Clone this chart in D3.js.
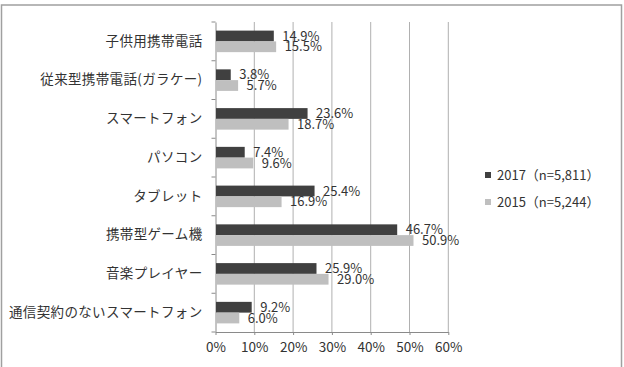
<!DOCTYPE html>
<html>
<head>
<meta charset="utf-8">
<script src="https://cdn.jsdelivr.net/npm/d3@7"></script>
<style>
  body { margin: 0; background: #fff; }
  text { font-family: "Noto Sans CJK JP", "Noto Sans", sans-serif; fill: #333; }
</style>
</head>
<body>
<div id="chart"></div>
<script>
// Data
const categories = [
  "子供用携帯電話",
  "従来型携帯電話(ガラケー)",
  "スマートフォン",
  "パソコン",
  "タブレット",
  "携帯型ゲーム機",
  "音楽プレイヤー",
  "通信契約のないスマートフォン"
];
const seriesNames = ["2017", "2015"];
const legendLabels = ["2017（n=5,811）", "2015（n=5,244）"];
const values2017 = [14.9, 3.8, 23.6, 7.4, 25.4, 46.7, 25.9, 9.2];
const values2015 = [15.5, 5.7, 18.7, 9.6, 16.9, 50.9, 29.0, 6.0];
const xTicks = [0, 10, 20, 30, 40, 50, 60];

const colors = { "2017": "#404040", "2015": "#bfbfbf" };

const W = 624, H = 367;
const margin = { top: 22, left: 215.5 };
const plotW = 232.8, plotH = 310;

const svg = d3.select("#chart").append("svg")
  .attr("width", W)
  .attr("height", H);

// outer frame
svg.append("rect")
  .attr("x", 1.5).attr("y", 5)
  .attr("width", 620).attr("height", 400)
  .attr("fill", "none")
  .attr("stroke", "#a0a0a0")
  .attr("stroke-width", 1.5);

const g = svg.append("g")
  .attr("transform", `translate(${margin.left},${margin.top})`);

// Scales
const x = d3.scaleLinear().domain([0, 60]).range([0, plotW]);
const y = d3.scaleBand().domain(categories).range([0, plotH]).padding(0);
const ySub = d3.scaleBand().domain(seriesNames).range([0, y.bandwidth()])
  .paddingInner(0).paddingOuter(0.8);

// gridlines
g.selectAll(".grid")
  .data(xTicks.slice(1))
  .enter().append("line")
  .attr("x1", d => x(d)).attr("x2", d => x(d))
  .attr("y1", 0).attr("y2", plotH)
  .attr("stroke", "#b0b0b0")
  .attr("stroke-width", 1);

// x axis
const xAxis = g.append("g")
  .attr("transform", `translate(0,${plotH})`)
  .call(d3.axisBottom(x).tickValues(xTicks).tickFormat(d => d + "%")
    .tickSize(3).tickSizeOuter(0).tickPadding(7));
xAxis.select(".domain").attr("stroke", "#8a8a8a");
xAxis.selectAll(".tick line").attr("stroke", "#8a8a8a");
xAxis.selectAll("text").style("font-size", "13.5px").attr("fill", "#333");

// y axis
const yAxis = g.append("g")
  .call(d3.axisLeft(y).tickSize(0).tickPadding(13));
yAxis.select(".domain").attr("stroke", "#8a8a8a");
yAxis.selectAll("text")
  .style("font-size", "13.5px")
  .style("letter-spacing", "0.35px")
  .attr("fill", "#333");

// category boundary ticks
g.selectAll(".ytick")
  .data(d3.range(categories.length + 1))
  .enter().append("line")
  .attr("x1", -4).attr("x2", 0)
  .attr("y1", i => i * y.step()).attr("y2", i => i * y.step())
  .attr("stroke", "#8a8a8a");

// bars
const rows = categories.map((c, i) => ({
  cat: c,
  vals: [
    { s: "2017", v: values2017[i] },
    { s: "2015", v: values2015[i] }
  ]
}));

const groups = g.selectAll(".row")
  .data(rows)
  .enter().append("g")
  .attr("transform", d => `translate(0,${y(d.cat)})`);

groups.selectAll("rect")
  .data(d => d.vals)
  .enter().append("rect")
  .attr("x", 0.5)
  .attr("y", d => ySub(d.s))
  .attr("width", d => x(d.v))
  .attr("height", ySub.bandwidth())
  .attr("fill", d => colors[d.s]);

groups.selectAll(".lbl")
  .data(d => d.vals)
  .enter().append("text")
  .attr("x", d => x(d.v) + 9)
  .attr("y", d => ySub(d.s) + ySub.bandwidth() / 2)
  .attr("dy", "0.36em")
  .style("font-size", "13px")
  .text(d => d.v.toFixed(1) + "%");

// legend
const legend = svg.append("g").attr("transform", "translate(485,175)");
seriesNames.forEach((s, i) => {
  legend.append("rect")
    .attr("x", 0).attr("y", i * 27 - 3)
    .attr("width", 6).attr("height", 6)
    .attr("fill", colors[s]);
  legend.append("text")
    .attr("x", 12).attr("y", i * 27)
    .attr("dy", "0.36em")
    .style("font-size", "13px")
    .text(legendLabels[i]);
});
</script>
</body>
</html>
